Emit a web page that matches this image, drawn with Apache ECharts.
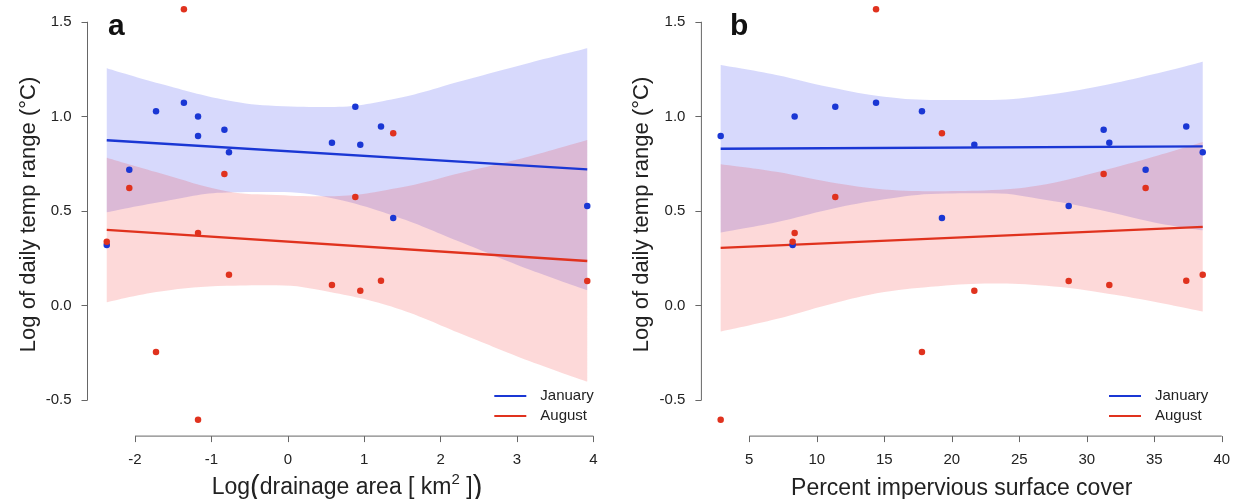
<!DOCTYPE html>
<html>
<head>
<meta charset="utf-8">
<script src="https://cdn.jsdelivr.net/npm/echarts@6/dist/echarts.min.js"></script>
<style>
  html, body { margin: 0; padding: 0; background: #ffffff; }
  #chart { width: 1239px; height: 499px; }
</style>
</head>
<body>
<div id="chart"></div>
<script>
// ---- Site data: one entry per stream site ----
const siteDrainageLog = [-2.37, -2.075, -1.725, -1.36, -1.175, -1.175, -0.83, -0.77, 0.578, 0.884, 0.949, 1.22, 1.38, 3.92];
const siteImpervious  = [8.21, 34.36, 17.79, 14.39, 8.36, 2.88, 31.25, 38.59, 31.67, 11.37, 21.67, 37.37, 19.27, 28.66];
const janRange = [0.32, 0.718, 1.027, 1.072, 1.0, 0.896, 0.93, 0.81, 0.861, 1.051, 0.85, 0.946, 0.463, 0.527];
const augRange = [0.338, 0.622, -0.245, 1.566, 0.384, -0.602, 0.696, 0.164, 0.109, 0.574, 0.079, 0.132, 0.911, 0.13];

// ---- Fitted regression lines (ends of the fitted range) ----
const fitXA = [-2.37, 3.92];
const janFitA = [0.874, 0.72];
const augFitA = [0.401, 0.236];
const fitXB = [2.88, 38.59];
const janFitB = [0.829, 0.842];
const augFitB = [0.305, 0.416];

// ---- 95% confidence bands ----
const bandXA = [-2.37, -1.67, -0.8, -0.15, 0.55, 1.42, 2.3, 3.17, 3.92];
const janUpperA = [1.254, 1.172, 1.085, 1.055, 1.05, 1.095, 1.19, 1.284, 1.36];
const janLowerA = [0.493, 0.548, 0.598, 0.60, 0.57, 0.47, 0.33, 0.19, 0.082];
const augUpperA = [0.782, 0.70, 0.605, 0.585, 0.578, 0.62, 0.705, 0.79, 0.875];
const augLowerA = [0.018, 0.075, 0.105, 0.108, 0.072, -0.013, -0.153, -0.293, -0.401];

const bandXB = [2.88, 7, 11, 15, 19, 23, 27, 31, 35, 38.59];
const janUpperB = [1.271, 1.219, 1.154, 1.104, 1.087, 1.087, 1.113, 1.161, 1.224, 1.289];
const janLowerB = [0.387, 0.441, 0.510, 0.562, 0.592, 0.594, 0.558, 0.505, 0.44, 0.398];
const augUpperB = [0.747, 0.707, 0.652, 0.614, 0.605, 0.611, 0.642, 0.71, 0.788, 0.865];
const augLowerB = [-0.137, -0.071, 0.008, 0.072, 0.103, 0.117, 0.105, 0.07, 0.021, -0.031];

// ---- Axis ticks and limits ----
const yTicks = [-0.5, 0.0, 0.5, 1.0, 1.5];
const xTicksA = [-2, -1, 0, 1, 2, 3, 4];
const xTicksB = [5, 10, 15, 20, 25, 30, 35, 40];
const yLimits = [-0.689, 1.653];
const xLimitsA = [-2.622, 4.172];
const xLimitsB = [1.452, 40.018];

// ---- Styling ----
const FONT = '"Liberation Sans", Arial, Helvetica, sans-serif';
const TXT = '#222222';
const AXIS = '#666666';
const BLUE = '#1a37d4';
const RED = '#e0321e';
const BLUE_BAND = 'rgba(20,30,240,0.17)';
const RED_BAND = 'rgba(240,20,20,0.16)';

const pairs = (xs, ys) => xs.map((x, i) => [x, ys[i]]);

// Band = invisible lower edge + stacked (upper - lower) area.
// Rows are stored as [y, x] so the stacked dimension is the y value.
function bandSeries(key, g, xs, lower, upper, color) {
  const stack = key + '-' + g;
  const common = {
    type: 'line', xAxisIndex: g, yAxisIndex: g, stack: stack, stackStrategy: 'all',
    encode: { x: 1, y: 0 },
    smooth: 0.4, symbol: 'none', silent: true, lineStyle: { opacity: 0 }, z: 1
  };
  return [
    Object.assign({}, common, { name: key + ' band base', data: xs.map((x, i) => [lower[i], x]) }),
    Object.assign({}, common, {
      name: key + ' band',
      data: xs.map((x, i) => [upper[i] - lower[i], x]),
      areaStyle: { color: color, opacity: 1 }
    })
  ];
}

function fitSeries(name, g, xs, ys, color) {
  return {
    type: 'line', name: name, xAxisIndex: g, yAxisIndex: g, data: pairs(xs, ys),
    symbol: 'none', silent: true, z: 3,
    itemStyle: { color: color }, lineStyle: { color: color, width: 2.3 }
  };
}

function pointSeries(name, g, xs, ys, color) {
  return {
    type: 'scatter', name: name, xAxisIndex: g, yAxisIndex: g, data: pairs(xs, ys),
    symbolSize: 6.5, silent: true, z: 4, itemStyle: { color: color, opacity: 1 }
  };
}

// R-style axis lines that run from the first to the last tick only
function frameSeries(g, xLim, xTicks) {
  const style = { type: 'line', xAxisIndex: g, yAxisIndex: g, symbol: 'none', silent: true, clip: false,
    z: 5, lineStyle: { color: AXIS, width: 1 } };
  return [
    Object.assign({}, style, { name: 'y axis ' + g, data: [[xLim[0], yTicks[0]], [xLim[0], yTicks[yTicks.length - 1]]] }),
    Object.assign({}, style, { name: 'x axis ' + g, data: [[xTicks[0], yLimits[0]], [xTicks[xTicks.length - 1], yLimits[0]]] })
  ];
}

function xAxisCfg(g, lim, ticks, name, nameGap, rich) {
  return {
    type: 'value', gridIndex: g, min: lim[0], max: lim[1],
    axisLine: { show: false, onZero: false },
    splitLine: { show: false },
    axisTick: { show: true, customValues: ticks, length: 6, lineStyle: { color: AXIS } },
    axisLabel: { customValues: ticks, margin: 16, fontSize: 15, color: TXT, fontFamily: FONT },
    name: name, nameLocation: 'middle', nameGap: nameGap,
    nameTextStyle: { fontSize: 23, color: TXT, fontFamily: FONT, rich: rich || {} }
  };
}

function yAxisCfg(g) {
  return {
    type: 'value', gridIndex: g, min: yLimits[0], max: yLimits[1],
    axisLine: { show: false, onZero: false },
    splitLine: { show: false },
    axisTick: { show: true, customValues: yTicks, length: 6, lineStyle: { color: AXIS } },
    axisLabel: { customValues: yTicks, margin: 16, fontSize: 15, color: TXT, fontFamily: FONT,
      formatter: v => v.toFixed(1) },
    name: 'Log of daily temp range (°C)', nameLocation: 'middle', nameGap: 48, nameRotate: 90,
    nameTextStyle: { fontSize: 22, color: TXT, fontFamily: FONT }
  };
}

const drainageRich = {
  t: { fontSize: 23, color: TXT, fontFamily: FONT },
  p: { fontSize: 29, color: TXT, fontFamily: FONT },
  s: { fontSize: 15, color: TXT, fontFamily: FONT, padding: [0, 0, 16, 0] }
};

const legendCfg = (left) => ({
  left: left, top: 383.5, orient: 'vertical', data: ['January', 'August'],
  icon: 'rect', itemWidth: 32, itemHeight: 2, itemGap: 5, selectedMode: false,
  textStyle: { fontSize: 15, color: TXT, fontFamily: FONT, padding: [0, 0, 0, 9] }
});

const option = {
  animation: false,
  backgroundColor: '#ffffff',
  title: [
    { text: 'a', left: 103, top: 7, textStyle: { fontSize: 30, fontWeight: 'bold', color: '#111', fontFamily: FONT } },
    { text: 'b', left: 725, top: 7, textStyle: { fontSize: 30, fontWeight: 'bold', color: '#111', fontFamily: FONT } }
  ],
  legend: [legendCfg(489.3), legendCfg(1104)],
  grid: [
    { left: 87.5, right: 632.5, top: -7.2, bottom: 62.9, outerBoundsMode: 'none', containLabel: false },
    { left: 701.4, right: 17, top: -7.2, bottom: 62.9, outerBoundsMode: 'none', containLabel: false }
  ],
  xAxis: [
    xAxisCfg(0, xLimitsA, xTicksA, '{t|Log}{p|(}{t|drainage area [ km}{s|2}{t| ]}{p|)}', 28, drainageRich),
    xAxisCfg(1, xLimitsB, xTicksB, 'Percent impervious surface cover', 41)
  ],
  yAxis: [yAxisCfg(0), yAxisCfg(1)],
  series: [
    fitSeries('January', 0, fitXA, janFitA, BLUE),
    fitSeries('August', 0, fitXA, augFitA, RED),
    fitSeries('January', 1, fitXB, janFitB, BLUE),
    fitSeries('August', 1, fitXB, augFitB, RED),
    ...bandSeries('January', 0, bandXA, janLowerA, janUpperA, BLUE_BAND),
    ...bandSeries('August', 0, bandXA, augLowerA, augUpperA, RED_BAND),
    ...bandSeries('January', 1, bandXB, janLowerB, janUpperB, BLUE_BAND),
    ...bandSeries('August', 1, bandXB, augLowerB, augUpperB, RED_BAND),
    pointSeries('January', 0, siteDrainageLog, janRange, BLUE),
    pointSeries('August', 0, siteDrainageLog, augRange, RED),
    pointSeries('January', 1, siteImpervious, janRange, BLUE),
    pointSeries('August', 1, siteImpervious, augRange, RED),
    ...frameSeries(0, xLimitsA, xTicksA),
    ...frameSeries(1, xLimitsB, xTicksB)
  ]
};

const chart = echarts.init(document.getElementById('chart'), null, { renderer: 'canvas' });
chart.setOption(option);
</script>
</body>
</html>
